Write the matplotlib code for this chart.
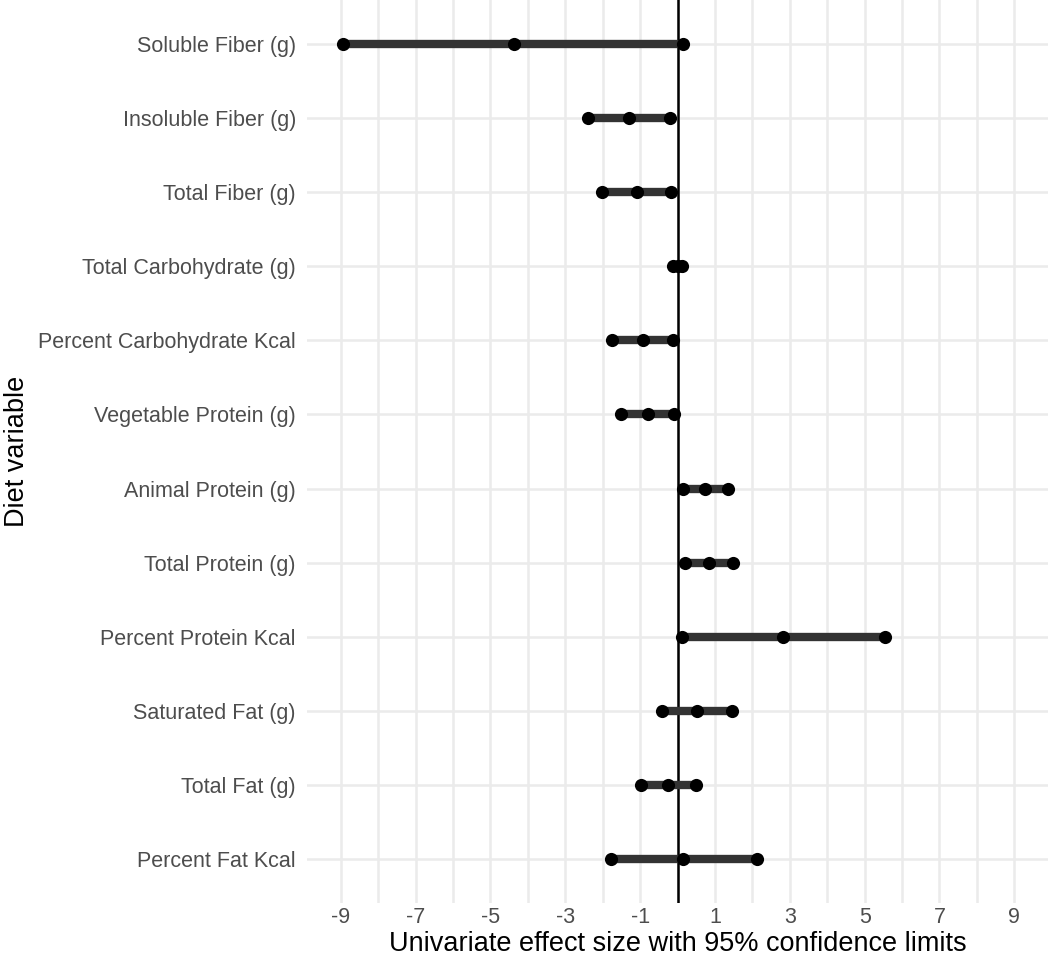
import numpy as np
import matplotlib.pyplot as plt

variables = ['Soluble Fiber (g)', 'Insoluble Fiber (g)', 'Total Fiber (g)',
             'Total Carbohydrate (g)', 'Percent Carbohydrate Kcal',
             'Vegetable Protein (g)', 'Animal Protein (g)', 'Total Protein (g)',
             'Percent Protein Kcal', 'Saturated Fat (g)', 'Total Fat (g)',
             'Percent Fat Kcal']
lower = [-8.94, -2.39, -2.01, -0.12, -1.75, -1.51, 0.14, 0.19, 0.11, -0.42, -0.98, -1.78]
effect = [-4.38, -1.30, -1.09, 0.00, -0.92, -0.80, 0.74, 0.83, 2.83, 0.52, -0.26, 0.16]
upper = [0.16, -0.19, -0.17, 0.13, -0.11, -0.10, 1.36, 1.47, 5.55, 1.45, 0.50, 2.12]
xticks = [-9, -7, -5, -3, -1, 1, 3, 5, 7, 9]

plt.rcParams['font.family'] = ['Liberation Sans', 'DejaVu Sans']

fig = plt.figure(figsize=(10.5, 9.65), dpi=100)
ax = fig.add_axes([307/1050, 1 - 903/965, 741/1050, 903/965])

n = len(variables)
y = np.arange(n)[::-1]

# grid
for v in range(-9, 10):
    ax.axvline(v, color='#ebebeb', lw=1.8, zorder=0)
for yy in y:
    ax.axhline(yy, color='#ebebeb', lw=1.8, zorder=0)

ax.axvline(0, color='black', lw=1.8, zorder=2)
ax.hlines(y, lower, upper, color='#333333', lw=6, zorder=3)
for vals in (lower, effect, upper):
    ax.scatter(vals, y, s=90, color='black', zorder=4, linewidths=0)

ax.set_xlim(-9.9, 9.9)
ax.set_ylim(-0.6, n - 0.4)
ax.set_xticks(xticks)
ax.set_xticklabels([str(t) for t in xticks])
ax.set_yticks(y)
ax.set_yticklabels(variables)
ax.tick_params(axis='both', length=0, labelsize=15.5, labelcolor='#4d4d4d')
ax.tick_params(axis='x', pad=3)
ax.tick_params(axis='y', pad=8)
for s in ax.spines.values():
    s.set_visible(False)

ax.set_xlabel('Univariate effect size with 95% confidence limits', fontsize=19.5, labelpad=2)
ax.set_ylabel('Diet variable', fontsize=19.5, labelpad=6)

fig.savefig('out.png', dpi=100)
